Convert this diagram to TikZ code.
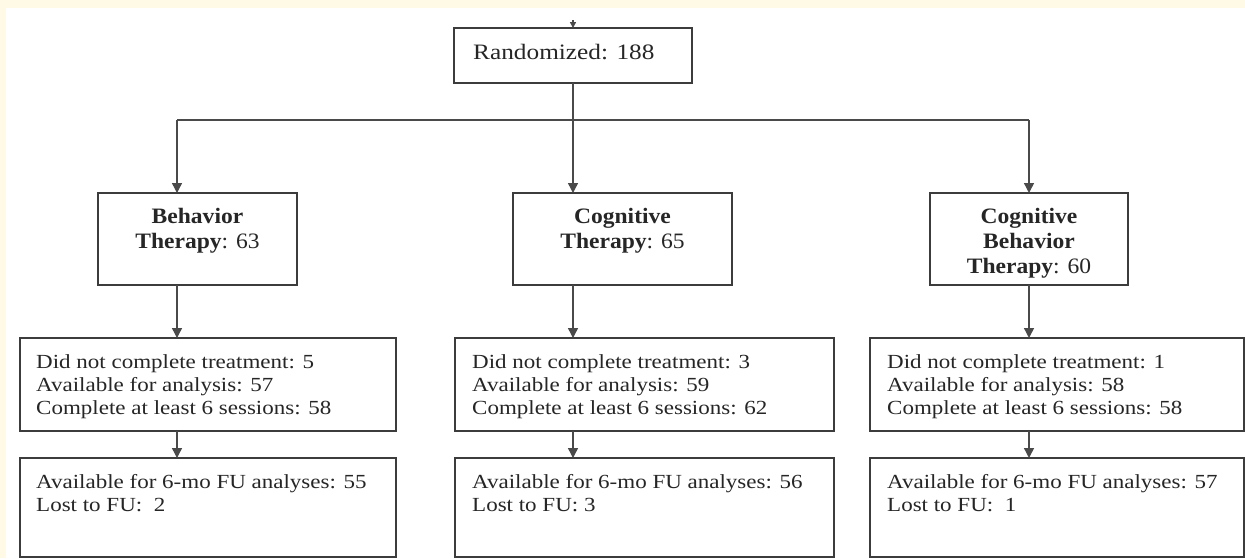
\documentclass[tikz,border=0pt]{standalone}
\usepackage{fontspec}
\setmainfont{Liberation Serif}
\newfontfamily\bodyfont[FakeStretch=1.15]{Liberation Serif}
\newfontfamily\headfont[FakeStretch=1.07]{Liberation Serif}
\usetikzlibrary{arrows.meta}
\definecolor{cream}{HTML}{FFFAE6}
\definecolor{boxline}{HTML}{3C3C3C}
\definecolor{conn}{HTML}{4A4A4A}
\definecolor{txt}{HTML}{262626}
\begin{document}
\begin{tikzpicture}[x=1pt,y=-1pt,
  box/.style={draw=boxline, line width=1.8pt, fill=white, inner sep=0pt, outer sep=0pt},
  body/.style={text=txt, inner sep=0pt, anchor=north west, align=left, font=\bodyfont\fontsize{20}{23}\selectfont},
  bigbody/.style={text=txt, inner sep=0pt, anchor=north west, align=left, font=\bodyfont\fontsize{22}{25}\selectfont},
  head/.style={text=txt, inner sep=0pt, anchor=north, align=center, font=\headfont\fontsize{22}{25}\selectfont},
  link/.style={draw=conn, line width=1.4pt},
  arr/.style={link, -{Triangle[width=10pt,length=10pt]}},
  smallarr/.style={link, -{Triangle[width=6pt,length=6pt]}}]
\useasboundingbox (0,0) rectangle (1245,558);
\fill[cream] (0,0) rectangle (1245,558);
\fill[white] (6,8) rectangle (1245,558);

% boxes
\node[box, minimum width=238pt, minimum height=55pt] (rand) at (573,55.5) {};
\node[box, minimum width=199pt, minimum height=92pt] (bt) at (197.5,239) {};
\node[box, minimum width=219pt, minimum height=92pt] (ct) at (622.5,239) {};
\node[box, minimum width=198pt, minimum height=92pt] (cbt) at (1029,239) {};
\node[box, minimum width=376pt, minimum height=93pt] (d1) at (208,384.5) {};
\node[box, minimum width=379pt, minimum height=93pt] (d2) at (644.5,384.5) {};
\node[box, minimum width=374pt, minimum height=93pt] (d3) at (1057,384.5) {};
\node[box, minimum width=376pt, minimum height=99pt] (f1) at (208,507.5) {};
\node[box, minimum width=379pt, minimum height=99pt] (f2) at (644.5,507.5) {};
\node[box, minimum width=374pt, minimum height=99pt] (f3) at (1057,507.5) {};

% texts
\node[bigbody] (randt) at (473,44) {Randomized: 188};
\node[head] (btt) at (197.5,208) {\textbf{Behavior}\\\textbf{Therapy}: 63};
\node[head] (ctt) at (622.5,208) {\textbf{Cognitive}\\\textbf{Therapy}: 65};
\node[head] (cbtt) at (1029,208) {\textbf{Cognitive}\\\textbf{Behavior}\\\textbf{Therapy}: 60};
\node[body] (d1t) at (36,354) {Did not complete treatment: 5\\Available for analysis: 57\\Complete at least 6 sessions: 58};
\node[body] (d2t) at (472,354) {Did not complete treatment: 3\\Available for analysis: 59\\Complete at least 6 sessions: 62};
\node[body] (d3t) at (887,354) {Did not complete treatment: 1\\Available for analysis: 58\\Complete at least 6 sessions: 58};
\node[body] (f1t) at (36,474) {Available for 6-mo FU analyses: 55\\Lost to FU:~ 2};
\node[body] (f2t) at (472,474) {Available for 6-mo FU analyses: 56\\Lost to FU: 3};
\node[body] (f3t) at (887,474) {Available for 6-mo FU analyses: 57\\Lost to FU:~ 1};

% connectors
\coordinate (in) at (573,20);
\coordinate (split) at (573,120);
\coordinate (hl) at (177,120);
\coordinate (hr) at (1029,120);
\draw[smallarr] (in) -- (rand.north);
\draw[link] (rand.south) -- (split);
\draw[link] (hl) -- (hr);
\draw[arr] (hl) -- (hl |- bt.north);
\draw[arr] (split) -- (split |- ct.north);
\draw[arr] (hr) -- (cbt.north);
\draw[arr] (hl |- bt.south) -- (hl |- d1.north);
\draw[arr] (split |- ct.south) -- (split |- d2.north);
\draw[arr] (cbt.south) -- (cbt.south |- d3.north);
\draw[arr] (hl |- d1.south) -- (hl |- f1.north);
\draw[arr] (split |- d2.south) -- (split |- f2.north);
\draw[arr] (cbt.south |- d3.south) -- (cbt.south |- f3.north);
\end{tikzpicture}
\end{document}
